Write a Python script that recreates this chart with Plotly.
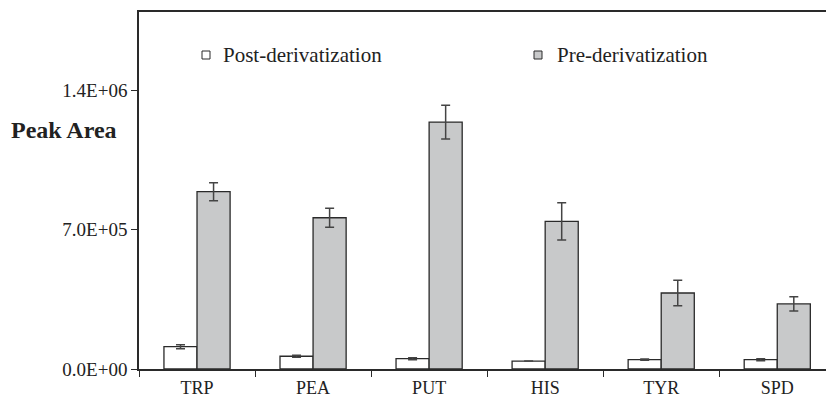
import plotly.graph_objects as go

categories = ["TRP", "PEA", "PUT", "HIS", "TYR", "SPD"]
post_values = [112000, 64000, 52000, 40000, 47000, 47000]
post_errors = [10000, 5000, 5000, 0, 3000, 5000]
pre_values = [891000, 760000, 1241000, 742000, 382000, 327000]
pre_errors = [45000, 48000, 85000, 94000, 64000, 36000]
series_names = ["Post-derivatization", "Pre-derivatization"]
y_tick_vals = [0, 700000, 1400000]
y_tick_text = ["0.0E+00", "7.0E+05", "1.4E+06"]

FONT = "Liberation Serif, Times New Roman, serif"
LINE = "#2a2a2a"
GRAY = "#c8c9ca"
TXT = "#222222"

L, T, B = 139, 12, 369
PW, PH = 826 - L, B - T

fig = go.Figure()
fig.add_trace(go.Bar(
    x=categories, y=post_values, name=series_names[0],
    marker=dict(color="white", line=dict(color=LINE, width=1.3)),
    error_y=dict(type="data", array=post_errors, color="#444444", thickness=1.5, width=4.5),
    showlegend=False,
))
fig.add_trace(go.Bar(
    x=categories, y=pre_values, name=series_names[1],
    marker=dict(color=GRAY, line=dict(color=LINE, width=1.3)),
    error_y=dict(type="data", array=pre_errors, color="#444444", thickness=1.5, width=4.5),
    showlegend=False,
))

fig.update_layout(
    width=826, height=397,
    margin=dict(l=L, r=0, t=T, b=397 - B, autoexpand=False),
    paper_bgcolor="white", plot_bgcolor="white",
    barmode="group", bargap=0.43, bargroupgap=0,
    font=dict(family=FONT, size=18, color=TXT),
)
fig.update_xaxes(
    range=[-0.5, 5.42], showline=True, linecolor=LINE, linewidth=1.5,
    mirror=True, ticks="outside", ticklen=6, tickcolor=LINE, tickwidth=1.3,
    tickson="boundaries", showgrid=False, zeroline=False, automargin=False,
    ticklabelstandoff=2,
    tickfont=dict(family=FONT, size=18, color=TXT),
)
fig.update_yaxes(
    range=[0, 1794000], showline=True, linecolor=LINE, linewidth=1.5,
    ticks="outside", ticklen=6, tickcolor=LINE, tickwidth=1.3, automargin=False,
    tickvals=y_tick_vals, ticktext=y_tick_text, showgrid=False, zeroline=False,
    tickfont=dict(family=FONT, size=19, color=TXT),
)

# Y label (horizontal)
fig.add_annotation(
    text="<b>Peak Area</b>", xref="paper", yref="paper", x=(9 - L) / PW, y=(B - 130) / PH,
    xanchor="left", yanchor="middle", showarrow=False,
    font=dict(family=FONT, size=24, color=TXT),
)

# Legend drawn manually
legend_items = [(202, "white", series_names[0], 221), (534, GRAY, series_names[1], 555)]
for sx, col, label, tx in legend_items:
    fig.add_shape(
        type="rect", xref="paper", yref="paper",
        x0=(sx - L) / PW, x1=(sx + 8 - L) / PW, y0=(B - 59) / PH, y1=(B - 51) / PH,
        fillcolor=col, line=dict(color=LINE, width=1),
    )
    fig.add_annotation(
        text=label, xref="paper", yref="paper", x=(tx - L) / PW, y=(B - 55) / PH,
        xanchor="left", yanchor="middle", showarrow=False,
        font=dict(family=FONT, size=21, color=TXT),
    )

fig.write_html(
    "out.html",
    config={"displayModeBar": False},
    post_script="document.body.style.margin='0';document.body.style.overflow='hidden';",
)
